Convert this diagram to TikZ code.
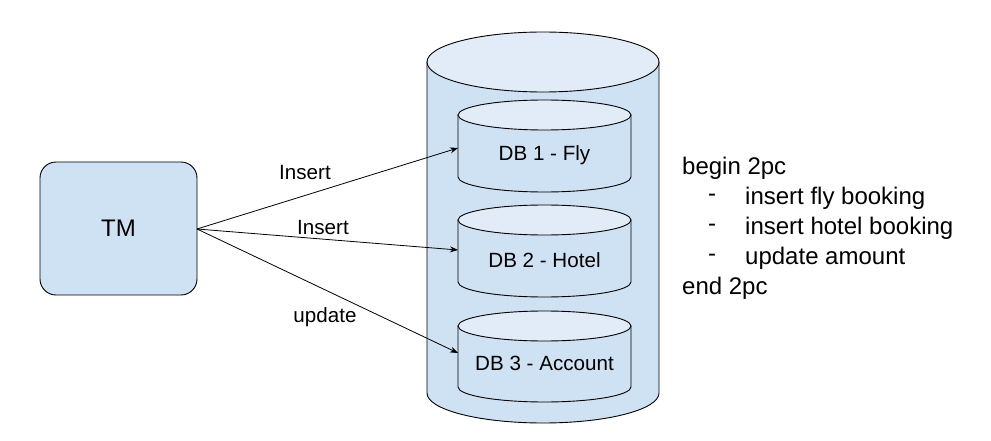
\documentclass[tikz,border=0pt]{standalone}
\usepackage{fontspec}
\setmainfont{Liberation Sans}
\usetikzlibrary{arrows.meta}
\definecolor{bodyblue}{HTML}{CFE2F3}
\definecolor{topblue}{HTML}{E1ECF8}
\tikzset{
  outline/.style={draw=black, line width=0.9pt},
  lbl/.style={font=\fontsize{20.6}{24}\selectfont, inner sep=0pt},
  note/.style={font=\fontsize{24}{30}\selectfont, inner sep=0pt, anchor=west},
  conn/.style={draw=black, line width=0.8pt, -{Stealth[length=8pt,width=6pt]}},
}
\newcommand{\smallcyl}[3]{% name, top center y, bottom center y
  \path[outline, fill=bodyblue] (458,#2) -- (458,#3) arc[start angle=180, end angle=0, x radius=86.5, y radius=15] -- (631,#2) -- cycle;
  \path[outline, fill=topblue] (544.5,#2) ellipse[x radius=86.5, y radius=15];
}
\begin{document}
\begin{tikzpicture}[x=1pt, y=-1pt]
\useasboundingbox (0,0) rectangle (991,441);
% big cylinder
\path[outline, fill=bodyblue] (427,62) -- (427,393) arc[start angle=180, end angle=0, x radius=116, y radius=30] -- (659,62) -- cycle;
\path[outline, fill=topblue] (543,62) ellipse[x radius=116, y radius=30];
% small cylinders
\smallcyl{db1c}{115}{177}
\smallcyl{db2c}{220}{282}
\smallcyl{db3c}{326}{387}
\node[lbl] (db1) at (544.5,155) {DB 1 - Fly};
\node[lbl] (db2) at (544.5,260) {DB 2 - Hotel};
\node[lbl] (db3) at (544.5,363) {DB 3 - Account};
\coordinate (e1) at (458,148);
\coordinate (e2) at (458,250);
\coordinate (e3) at (458,353);
% TM box
\node[outline, fill=bodyblue, rounded corners=16pt, minimum width=157pt, minimum height=133pt, inner sep=0pt,
      font=\fontsize{24}{28}\selectfont] (tm) at (118.5,228.5) {TM};
\coordinate (s) at (197,229);
\draw[conn] (s) -- (e1);
\draw[conn] (s) -- (e2);
\draw[conn] (s) -- (e3);
\node[lbl] (l1) at (305,173) {Insert};
\node[lbl] (l2) at (323,228) {Insert};
\node[lbl] (l3) at (325,317) {update};
% notes
\node[note] (n1) at (682,168) {begin 2pc};
\node[note] (d1) at (708,198) {-};
\node[note] (n2) at (745,198) {insert fly booking};
\node[note] (d2) at (708,228) {-};
\node[note] (n3) at (745,228) {insert hotel booking};
\node[note] (d3) at (708,258) {-};
\node[note] (n4) at (745,258) {update amount};
\node[note] (n5) at (682,288) {end 2pc};
\end{tikzpicture}
\end{document}
